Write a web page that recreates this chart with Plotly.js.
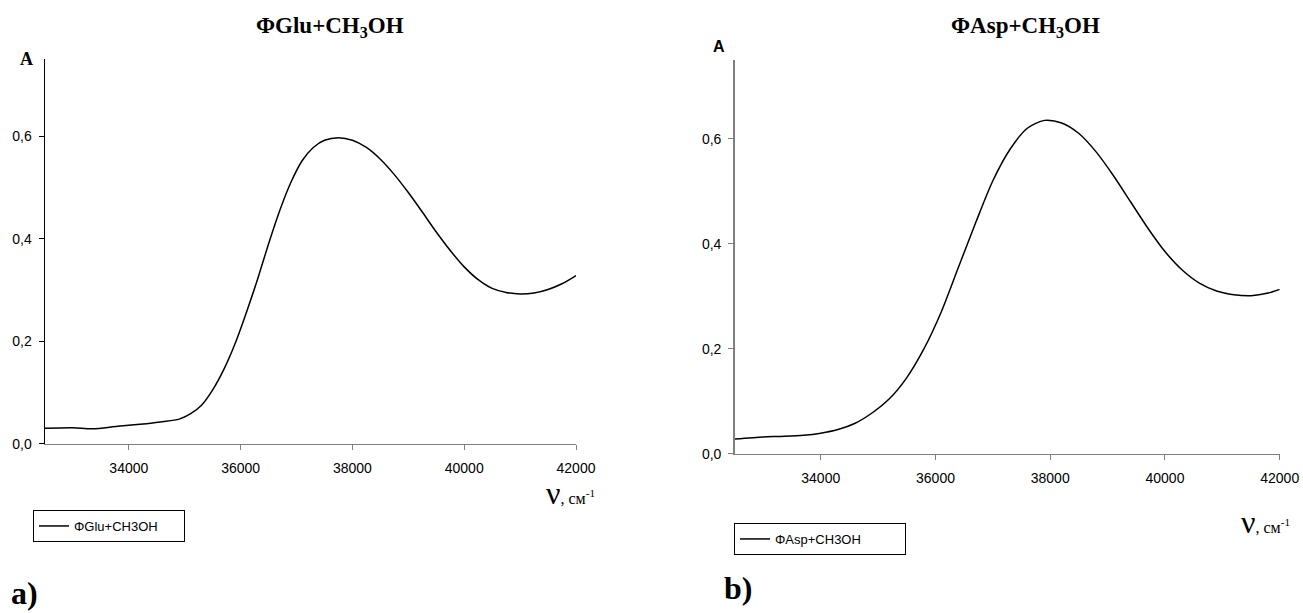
<!DOCTYPE html>
<html>
<head>
<meta charset="utf-8">
<script src="https://cdn.plot.ly/plotly-3.0.1.min.js"></script>
<style>html,body{margin:0;padding:0;background:#fff;}#chart{width:1303px;height:613px;}</style>
</head>
<body>
<div id="chart"></div>
<script>
// ΦGlu + CH3OH (panel a)
const gluWavenumber = [32500,33000,33350,33800,34200,34600,34900,35100,35300,35500,35700,35900,36100,36300,36500,36700,36900,37100,37300,37500,37750,38000,38250,38500,38750,39000,39250,39500,39750,40000,40250,40500,40750,41000,41250,41500,41750,42000];
const gluAbsorbance = [0.030,0.031,0.029,0.034,0.038,0.043,0.048,0.058,0.075,0.105,0.145,0.195,0.255,0.320,0.390,0.455,0.510,0.552,0.578,0.592,0.597,0.592,0.578,0.555,0.525,0.490,0.452,0.413,0.377,0.345,0.320,0.303,0.295,0.292,0.294,0.301,0.312,0.328];

// ΦAsp + CH3OH (panel b)
const aspWavenumber = [32500,33000,33300,33700,34000,34300,34600,34900,35200,35500,35800,36100,36400,36700,37000,37300,37600,37900,38200,38500,38800,39100,39400,39700,40000,40300,40600,40900,41200,41500,41800,42000];
const aspAbsorbance = [0.028,0.032,0.033,0.035,0.039,0.046,0.058,0.078,0.105,0.145,0.200,0.270,0.355,0.440,0.520,0.580,0.620,0.635,0.630,0.610,0.575,0.530,0.480,0.430,0.385,0.350,0.325,0.310,0.303,0.301,0.306,0.313];

const xTickVals = [34000,36000,38000,40000,42000];
const yTickVals = [0,0.2,0.4,0.6];
const xRange = [32500,42000];
const yRange = [0,0.75];

const W = 1303, H = 613;
const px = v => v / W;
const py = v => 1 - v / H;

const traces = [
  {x: gluWavenumber, y: gluAbsorbance, type:'scatter', mode:'lines', name:'ΦGlu+CH3OH',
   line:{color:'#000', width:1.5, shape:'spline', smoothing:0.8}, xaxis:'x', yaxis:'y', legend:'legend'},
  {x: aspWavenumber, y: aspAbsorbance, type:'scatter', mode:'lines', name:'ΦAsp+CH3OH',
   line:{color:'#000', width:1.5, shape:'spline', smoothing:0.8}, xaxis:'x2', yaxis:'y2', legend:'legend2'}
];

const sans = 'Liberation Sans, Arial, sans-serif';
const serif = 'Liberation Serif, Times New Roman, serif';
const tickFont = {family:sans, size:14, color:'#000'};
function xax(domain, anchor){
  return {domain:domain, anchor:anchor, range:xRange, tickvals:xTickVals, tickformat:'d',
    showline:true, linecolor:'#808080', linewidth:1.5, ticks:'outside', ticklen:5, tickcolor:'#808080',
    ticklabelstandoff:6, showgrid:false, zeroline:false, tickfont:tickFont, fixedrange:true};
}
function yax(domain, anchor, lc){
  return {domain:domain, anchor:anchor, range:yRange, tickvals:yTickVals, tickformat:'.1f',
    showline:true, linecolor:lc, linewidth:1.5, ticks:'outside', ticklen:5, tickcolor:lc,
    ticklabelstandoff:4, showgrid:false, zeroline:false, tickfont:tickFont, fixedrange:true};
}

const nuLabel = "<span style='font-size:32px'>ν</span>, см<sup>-1</sup>";
function ann(text, x, y, font){
  return {text:text, xref:'paper', yref:'paper', x:px(x), y:py(y), xanchor:'center', yanchor:'middle',
    showarrow:false, font:font};
}
const legendFont = {family:sans, size:13, color:'#000'};

const layout = {
  width:W, height:H, margin:{l:0,r:0,t:0,b:0}, paper_bgcolor:'#fff', plot_bgcolor:'#fff',
  separators:', ',
  showlegend:true,
  xaxis: xax([px(45), px(576)], 'y'),
  yaxis: yax([1-443.7/H, 1-59.3/H], 'x', '#000'),
  xaxis2: xax([px(734.7), px(1279.7)], 'y2'),
  yaxis2: yax([1-453.7/H, 1-60/H], 'x2', '#808080'),
  legend: {x:px(33), y:py(510), xanchor:'left', yanchor:'top', bordercolor:'#000', borderwidth:1,
    orientation:'h', entrywidth:105, entrywidthmode:'pixels', bgcolor:'#fff', font:legendFont},
  legend2: {x:px(734), y:py(523), xanchor:'left', yanchor:'top', bordercolor:'#000', borderwidth:1,
    orientation:'h', entrywidth:125, entrywidthmode:'pixels', bgcolor:'#fff', font:legendFont},
  annotations: [
    ann('<b>ΦGlu+CH<sub>3</sub>OH</b>', 330, 27, {family:serif, size:23, color:'#000'}),
    ann('<b>ΦAsp+CH<sub>3</sub>OH</b>', 1025, 27, {family:serif, size:23, color:'#000'}),
    ann('<b>A</b>', 26, 59, {family:serif, size:18, color:'#000'}),
    ann('<b>A</b>', 719, 46, {family:sans, size:16, color:'#000'}),
    ann(nuLabel, 570, 493, {family:serif, size:16, color:'#000'}),
    ann(nuLabel, 1265, 522, {family:serif, size:16, color:'#000'}),
    ann('<b>a)</b>', 24, 593, {family:serif, size:32, color:'#000'}),
    ann('<b>b)</b>', 738, 588, {family:serif, size:32, color:'#000'})
  ]
};

Plotly.newPlot('chart', traces, layout, {displayModeBar:false, staticPlot:true});
</script>
</body>
</html>
